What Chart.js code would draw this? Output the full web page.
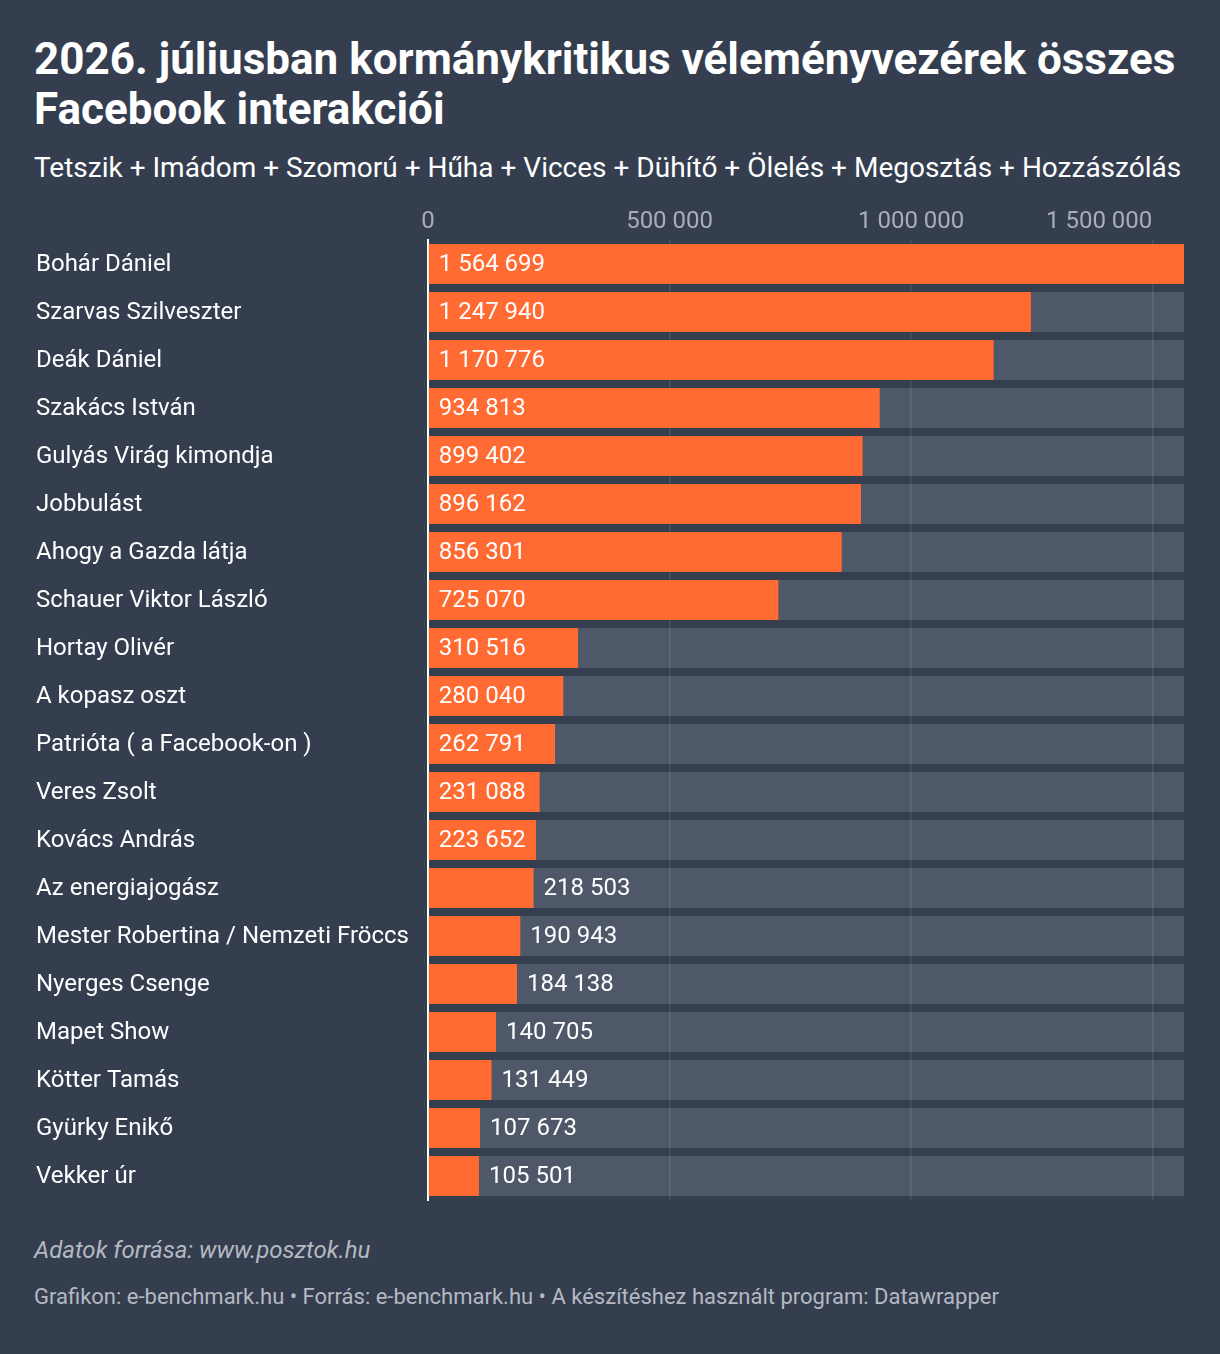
<!DOCTYPE html>
<html lang="hu">
<head>
    <meta charset="UTF-8">
    <title>Kormánykritikus véleményvezérek Facebook interakciói</title>
    <script src="https://cdn.jsdelivr.net/npm/chart.js"></script>
    <style>
        body { margin: 0; background: #343e4f; font-family: Roboto, sans-serif; color: #fff; }
        #wrap { position: relative; width: 1220px; height: 1354px; }
        h1 { position: absolute; left: 34px; top: 34px; margin: 0; font-size: 44px; line-height: 50px; font-weight: 700; width: 1170px; }
        .sub { position: absolute; left: 34px; top: 151px; margin: 0; font-size: 28px; line-height: 33px; }
        #box { position: absolute; left: 0; top: 200px; width: 1220px; height: 1010px; }
        .src { position: absolute; left: 34px; top: 1236px; font-size: 24px; line-height: 28px; font-style: italic; color: #b4b9c1; }
        .foot { position: absolute; left: 34px; top: 1284px; font-size: 22px; line-height: 26px; color: #b4b9c1; }
    </style>
</head>
<body>
<div id="wrap">
    <h1>2026. júliusban kormánykritikus véleményvezérek összes Facebook interakciói</h1>
    <p class="sub">Tetszik + Imádom + Szomorú + Hűha + Vicces + Dühítő + Ölelés + Megosztás + Hozzászólás</p>
    <div id="box"><canvas id="chart"></canvas></div>
    <div class="src">Adatok forrása: www.posztok.hu</div>
    <div class="foot">Grafikon: e-benchmark.hu • Forrás: e-benchmark.hu • A készítéshez használt program: Datawrapper</div>
</div>

<script>
    const names = [
        'Bohár Dániel', 'Szarvas Szilveszter', 'Deák Dániel', 'Szakács István',
        'Gulyás Virág kimondja', 'Jobbulást', 'Ahogy a Gazda látja', 'Schauer Viktor László',
        'Hortay Olivér', 'A kopasz oszt', 'Patrióta ( a Facebook-on )', 'Veres Zsolt',
        'Kovács András', 'Az energiajogász', 'Mester Robertina / Nemzeti Fröccs', 'Nyerges Csenge',
        'Mapet Show', 'Kötter Tamás', 'Gyürky Enikő', 'Vekker úr'
    ];
    const interactions = [
        1564699, 1247940, 1170776, 934813,
        899402, 896162, 856301, 725070,
        310516, 280040, 262791, 231088,
        223652, 218503, 190943, 184138,
        140705, 131449, 107673, 105501
    ];
    const axisTicks = [0, 500000, 1000000, 1500000];

    const ORANGE = '#ff6b33';
    const TRACK = '#4e5868';

    function fmt(n) {
        return String(n).replace(/\B(?=(\d{3})+(?!\d))/g, ' ');
    }

    // grey track behind each bar, drawn before the grid so grid lines sit on top of it
    const trackPlugin = {
        id: 'track',
        beforeDraw(chart) {
            const ctx = chart.ctx;
            const meta = chart.getDatasetMeta(0);
            const x0 = chart.scales.x.getPixelForValue(0);
            ctx.save();
            ctx.fillStyle = TRACK;
            meta.data.forEach(bar => {
                ctx.fillRect(x0, bar.y - bar.height / 2, chart.chartArea.right - x0, bar.height);
            });
            ctx.restore();
        }
    };

    // value labels: inside the bar when it fits, otherwise right after it
    const valuePlugin = {
        id: 'values',
        afterDatasetsDraw(chart) {
            const ctx = chart.ctx;
            const meta = chart.getDatasetMeta(0);
            ctx.save();
            ctx.font = '24px Roboto';
            ctx.fillStyle = '#ffffff';
            ctx.textBaseline = 'middle';
            ctx.textAlign = 'left';
            meta.data.forEach((bar, i) => {
                const txt = fmt(interactions[i]);
                const w = ctx.measureText(txt).width;
                const len = bar.x - bar.base;
                const x = len >= w + 20 ? bar.base + 10 : bar.x + 10;
                ctx.fillText(txt, x, bar.y + 1);
            });
            ctx.restore();
        }
    };

    new Chart(document.getElementById('chart'), {
        type: 'bar',
        data: {
            labels: names,
            datasets: [{
                data: interactions,
                backgroundColor: ORANGE,
                borderWidth: 0,
                barPercentage: 40 / 48,
                categoryPercentage: 1
            }]
        },
        options: {
            indexAxis: 'y',
            responsive: true,
            maintainAspectRatio: false,
            animation: false,
            layout: { padding: { left: 36, right: 36, top: 0, bottom: 10 } },
            plugins: { legend: { display: false }, tooltip: { enabled: false } },
            scales: {
                x: {
                    position: 'top',
                    min: 0,
                    max: Math.max(...interactions),
                    afterBuildTicks: s => { s.ticks = axisTicks.map(v => ({ value: v })); },
                    afterFit: s => { s.height = 40; s.paddingLeft = 0; s.paddingRight = 0; },
                    grid: { color: 'rgba(255,255,255,0.1)', lineWidth: 1.5, drawTicks: false },
                    border: { display: false },
                    ticks: {
                        color: '#a9aeb6',
                        font: { family: 'Roboto', size: 24 },
                        padding: 4,
                        maxRotation: 0,
                        // last label is pulled left so it ends on its grid line
                        callback: v => v === 1500000 ? fmt(v) + '\u00a0'.repeat(18) : fmt(v)
                    }
                },
                y: {
                    afterFit: s => { s.width = 392; s.paddingTop = 0; s.paddingBottom = 0; },
                    grid: { display: false },
                    border: { display: true, color: '#ffffff', width: 2 },
                    ticks: {
                        color: '#ffffff',
                        crossAlign: 'far',
                        labelOffset: 1,
                        font: { family: 'Roboto', size: 24 }
                    }
                }
            }
        },
        plugins: [trackPlugin, valuePlugin]
    });
</script>
</body>
</html>
